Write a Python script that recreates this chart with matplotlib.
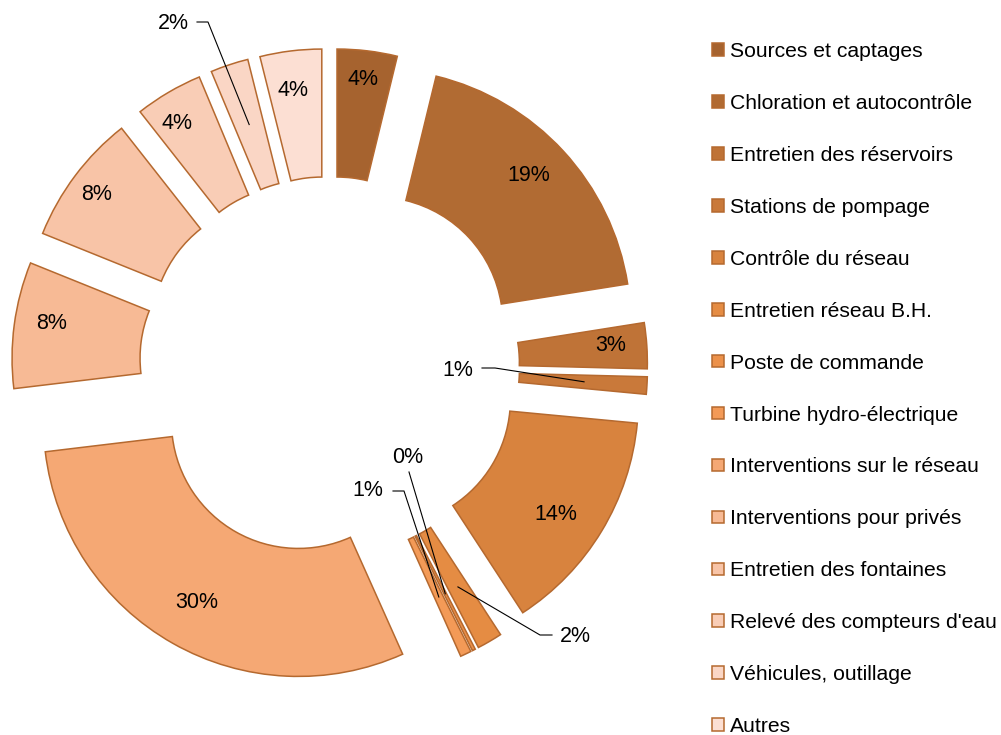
import matplotlib
matplotlib.use("Agg")
import matplotlib.pyplot as plt
import numpy as np

plt.rcParams['font.family'] = ['Liberation Sans', 'DejaVu Sans']

categories = ["Sources et captages", "Chloration et autocontrôle", "Entretien des réservoirs",
              "Stations de pompage", "Contrôle du réseau", "Entretien réseau B.H.",
              "Poste de commande", "Turbine hydro-électrique", "Interventions sur le réseau",
              "Interventions pour privés", "Entretien des fontaines",
              "Relevé des compteurs d'eau", "Véhicules, outillage", "Autres"]
shares = [3.8, 18.7, 2.9, 1.1, 14.3, 1.6, 0.2, 0.7, 29.8, 8.0, 8.3, 4.3, 2.4, 3.9]
colours = ["#A6632F", "#B16B33", "#BF7337", "#C9793A", "#D8833E", "#E58C43",
           "#EC914A", "#F39A57", "#F5A874", "#F7BA95", "#F8C4A7", "#F9CDB6",
           "#FAD6C5", "#FCDFD3"]

W, H = 1001, 735


def px(x, y):
    # pixel position (origin top left) -> data coords
    return x, H - y


fig = plt.figure(figsize=(W / 100, H / 100), dpi=100)
ax = fig.add_axes([0, 0, 1, 1])

R = 255
wedges, texts, pcts = ax.pie(
    shares, colors=colours, startangle=90, counterclock=False,
    explode=[63] * len(shares), radius=R, center=px(329.5, 366.6),
    autopct=lambda p: f"{round(p):d}%", pctdistance=0.83,
    wedgeprops=dict(width=128, edgecolor="#B5692F", linewidth=1.1),
    textprops=dict(fontsize=15.5, color="black"))

# label placement inside the slices (as in the original, best fit)
inside = {0: (363, 79), 1: (529, 175), 2: (611, 345), 4: (556, 514),
          8: (197, 603), 9: (52, 323), 10: (97, 194), 11: (177, 123), 13: (293, 90)}
for i, pos in inside.items():
    pcts[i].set_position(px(*pos))

# small slices: label outside with a leader line
callouts = {
    3: ((458, 370), [(482, 368), (495, 368)]),
    5: ((575, 637), [(552, 635), (540, 635)]),
    6: ((408, 457), [(409, 472)]),
    7: ((368, 491), [(393, 491), (404, 491)]),
    12: ((173, 23), [(197, 22), (208, 22)]),
}
for i, (tpos, path) in callouts.items():
    w = wedges[i]
    mid = np.deg2rad((w.theta1 + w.theta2) / 2)
    end = (w.center[0] + 0.753 * R * np.cos(mid), w.center[1] + 0.753 * R * np.sin(mid))
    pts = [px(*p) for p in path] + [end]
    ax.plot([p[0] for p in pts], [p[1] for p in pts], color="black", lw=0.8)
    pcts[i].set_position(px(*tpos))

ax.set_xlim(0, W)
ax.set_ylim(0, H)
ax.axis('off')

fig.legend(wedges, categories, loc='upper left', bbox_to_anchor=(712 / W, 1 - 42 / H),
           frameon=False, fontsize=15.2, handlelength=0.55, handleheight=0.55,
           handletextpad=0.3, labelspacing=1.56, borderpad=0, borderaxespad=0)

fig.savefig("out.png", dpi=100)
